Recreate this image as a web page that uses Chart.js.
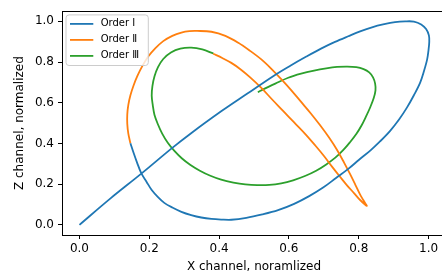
<!DOCTYPE html>
<html>
<head>
<meta charset="utf-8">
<script src="https://cdn.jsdelivr.net/npm/chart.js@4.4.0/dist/chart.umd.min.js"></script>
<style>
html, body { margin: 0; padding: 0; overflow: hidden; background: #fff; }
#wrap { width: 447px; height: 279px; }
</style>
</head>
<body>
<div id="wrap"><canvas id="myChart" width="447" height="279"></canvas></div>
<script>
const seriesNames = ['Order \u2160', 'Order \u2161', 'Order \u2162'];
const seriesColors = ['#1f77b4', '#ff7f0e', '#2ca02c'];
const tickValues = [0, 0.2, 0.4, 0.6, 0.8, 1.0];

// Order I
const order1X = [0, 0.089, 0.179, 0.265, 0.318, 0.406, 0.48, 0.556, 0.604, 0.65, 0.692, 0.732, 0.77, 0.804, 0.838, 0.873, 0.904, 0.933, 0.958, 0.979, 0.993, 1.001, 1.002, 1.0, 0.996, 0.987, 0.976, 0.958, 0.938, 0.916, 0.89, 0.861, 0.833, 0.801, 0.77, 0.735, 0.698, 0.658, 0.615, 0.569, 0.524, 0.478, 0.435, 0.406, 0.378, 0.349, 0.32, 0.292, 0.266, 0.243, 0.225, 0.207, 0.192, 0.177, 0.165, 0.155, 0.146];
const order1Y = [0, 0.13, 0.254, 0.377, 0.448, 0.558, 0.644, 0.732, 0.782, 0.827, 0.866, 0.899, 0.927, 0.951, 0.971, 0.986, 0.996, 1.0, 0.999, 0.985, 0.962, 0.931, 0.898, 0.86, 0.813, 0.756, 0.699, 0.637, 0.576, 0.519, 0.462, 0.41, 0.365, 0.32, 0.275, 0.23, 0.183, 0.141, 0.103, 0.072, 0.051, 0.034, 0.025, 0.026, 0.029, 0.036, 0.048, 0.064, 0.085, 0.108, 0.136, 0.171, 0.212, 0.254, 0.306, 0.354, 0.401];

// Order II
const order2X = [0.146, 0.14, 0.137, 0.137, 0.14, 0.146, 0.155, 0.166, 0.18, 0.197, 0.217, 0.24, 0.266, 0.292, 0.315, 0.337, 0.378, 0.418, 0.455, 0.489, 0.521, 0.549, 0.578, 0.607, 0.635, 0.664, 0.69, 0.715, 0.738, 0.758, 0.775, 0.79, 0.803, 0.813, 0.823, 0.804, 0.787, 0.767, 0.747, 0.724, 0.701, 0.675, 0.647, 0.615, 0.584, 0.552, 0.521, 0.489, 0.461, 0.435, 0.409, 0.383];
const order2Y = [0.401, 0.448, 0.496, 0.543, 0.59, 0.637, 0.685, 0.732, 0.78, 0.827, 0.867, 0.903, 0.929, 0.945, 0.952, 0.953, 0.949, 0.929, 0.895, 0.855, 0.813, 0.768, 0.716, 0.661, 0.604, 0.545, 0.488, 0.429, 0.368, 0.306, 0.25, 0.198, 0.152, 0.122, 0.093, 0.122, 0.155, 0.193, 0.235, 0.285, 0.337, 0.391, 0.446, 0.503, 0.559, 0.616, 0.673, 0.725, 0.765, 0.796, 0.82, 0.841];

// Order III
const order3X = [0.384, 0.352, 0.32, 0.289, 0.262, 0.24, 0.225, 0.215, 0.209, 0.207, 0.21, 0.215, 0.225, 0.237, 0.253, 0.272, 0.293, 0.318, 0.345, 0.375, 0.406, 0.441, 0.475, 0.509, 0.544, 0.578, 0.612, 0.646, 0.678, 0.707, 0.733, 0.756, 0.775, 0.793, 0.808, 0.821, 0.833, 0.843, 0.848, 0.847, 0.841, 0.83, 0.814, 0.793, 0.767, 0.738, 0.707, 0.672, 0.635, 0.598, 0.561, 0.529, 0.511];
const order3Y = [0.842, 0.862, 0.871, 0.866, 0.847, 0.815, 0.775, 0.73, 0.682, 0.635, 0.588, 0.54, 0.493, 0.448, 0.403, 0.363, 0.327, 0.294, 0.266, 0.241, 0.222, 0.208, 0.199, 0.195, 0.196, 0.204, 0.219, 0.24, 0.266, 0.297, 0.33, 0.368, 0.406, 0.446, 0.488, 0.533, 0.578, 0.623, 0.661, 0.694, 0.725, 0.749, 0.765, 0.775, 0.778, 0.776, 0.769, 0.758, 0.743, 0.723, 0.694, 0.668, 0.652];

const xs = [order1X, order2X, order3X];
const ys = [order1Y, order2Y, order3Y];

function toPoints(px, py) {
    return px.map((v, i) => ({ x: v, y: py[i] }));
}

// four spines on top of the lines, like matplotlib
const frame = {
    id: 'frame',
    afterDatasetsDraw(chart) {
        const { ctx, chartArea: a } = chart;
        ctx.save();
        ctx.strokeStyle = '#000';
        ctx.lineWidth = 1;
        ctx.strokeRect(Math.round(a.left) + 0.5, Math.round(a.top) + 0.5,
            Math.round(a.right - a.left) - 1, Math.round(a.bottom - a.top));
        ctx.restore();
    }
};

// legend box inside the axes, upper left
const inLegend = {
    id: 'inLegend',
    afterDraw(chart) {
        const { ctx, chartArea: a } = chart;
        const x0 = a.left + 4, y0 = a.top + 3.7, w = 82.3, h = 50.6, r = 3;
        ctx.save();
        ctx.beginPath();
        ctx.moveTo(x0 + r, y0);
        ctx.arcTo(x0 + w, y0, x0 + w, y0 + h, r);
        ctx.arcTo(x0 + w, y0 + h, x0, y0 + h, r);
        ctx.arcTo(x0, y0 + h, x0, y0, r);
        ctx.arcTo(x0, y0, x0 + w, y0, r);
        ctx.closePath();
        ctx.fillStyle = 'rgba(255,255,255,0.8)';
        ctx.fill();
        ctx.strokeStyle = '#cccccc';
        ctx.lineWidth = 1;
        ctx.stroke();

        ctx.font = '10px "DejaVu Sans"';
        ctx.textBaseline = 'middle';
        ctx.fillStyle = '#000';
        chart.data.datasets.forEach((ds, i) => {
            const yy = a.top + 12.7 + i * 16;
            ctx.beginPath();
            ctx.moveTo(a.left + 8, yy);
            ctx.lineTo(a.left + 31.3, yy);
            ctx.strokeStyle = ds.borderColor;
            ctx.lineWidth = 1.8;
            ctx.stroke();
            ctx.fillText(ds.label, a.left + 38.7, yy);
        });
        ctx.restore();
    }
};

const ctx = document.getElementById('myChart').getContext('2d');

const myChart = new Chart(ctx, {
    type: 'scatter',
    data: {
        datasets: seriesNames.map((name, i) => ({
            label: name,
            data: toPoints(xs[i], ys[i]),
            showLine: true,
            borderColor: seriesColors[i],
            backgroundColor: seriesColors[i],
            borderWidth: 1.8,
            pointRadius: 0,
            tension: 0.35
        }))
    },
    options: {
        responsive: false,
        animation: false,
        devicePixelRatio: 1,
        layout: {
            padding: { top: 3, right: 1, left: 0, bottom: 0 }
        },
        scales: {
            x: {
                type: 'linear',
                min: -0.05,
                max: 1.05,
                afterBuildTicks: (s) => { s.ticks = tickValues.map(v => ({ value: v })); },
                afterFit: (s) => { s.height = 44; },
                border: { display: false },
                grid: {
                    display: true,
                    drawOnChartArea: false,
                    drawTicks: true,
                    tickLength: 4,
                    color: '#000',
                    lineWidth: 1
                },
                ticks: {
                    color: '#000',
                    padding: 3,
                    maxRotation: 0,
                    font: { family: 'DejaVu Sans', size: 12 },
                    callback: (v) => Number(v).toFixed(1)
                },
                title: {
                    display: true,
                    text: 'X channel, noramlized',
                    color: '#000',
                    font: { family: 'DejaVu Sans', size: 12 },
                    padding: { top: 0, bottom: 5 }
                }
            },
            y: {
                type: 'linear',
                min: -0.05,
                max: 1.05,
                afterBuildTicks: (s) => { s.ticks = tickValues.map(v => ({ value: v })); },
                afterFit: (s) => { s.width = 62; },
                border: { display: false },
                grid: {
                    display: true,
                    drawOnChartArea: false,
                    drawTicks: true,
                    tickLength: 4,
                    color: '#000',
                    lineWidth: 1
                },
                ticks: {
                    color: '#000',
                    padding: 4,
                    font: { family: 'DejaVu Sans', size: 12 },
                    callback: (v) => Number(v).toFixed(1)
                },
                title: {
                    display: true,
                    text: 'Z channel, normalized',
                    color: '#000',
                    font: { family: 'DejaVu Sans', size: 12 },
                    padding: { top: 13, bottom: 0 }
                }
            }
        },
        plugins: {
            legend: { display: false },
            tooltip: { enabled: false }
        }
    },
    plugins: [frame, inLegend]
});
</script>
</body>
</html>
